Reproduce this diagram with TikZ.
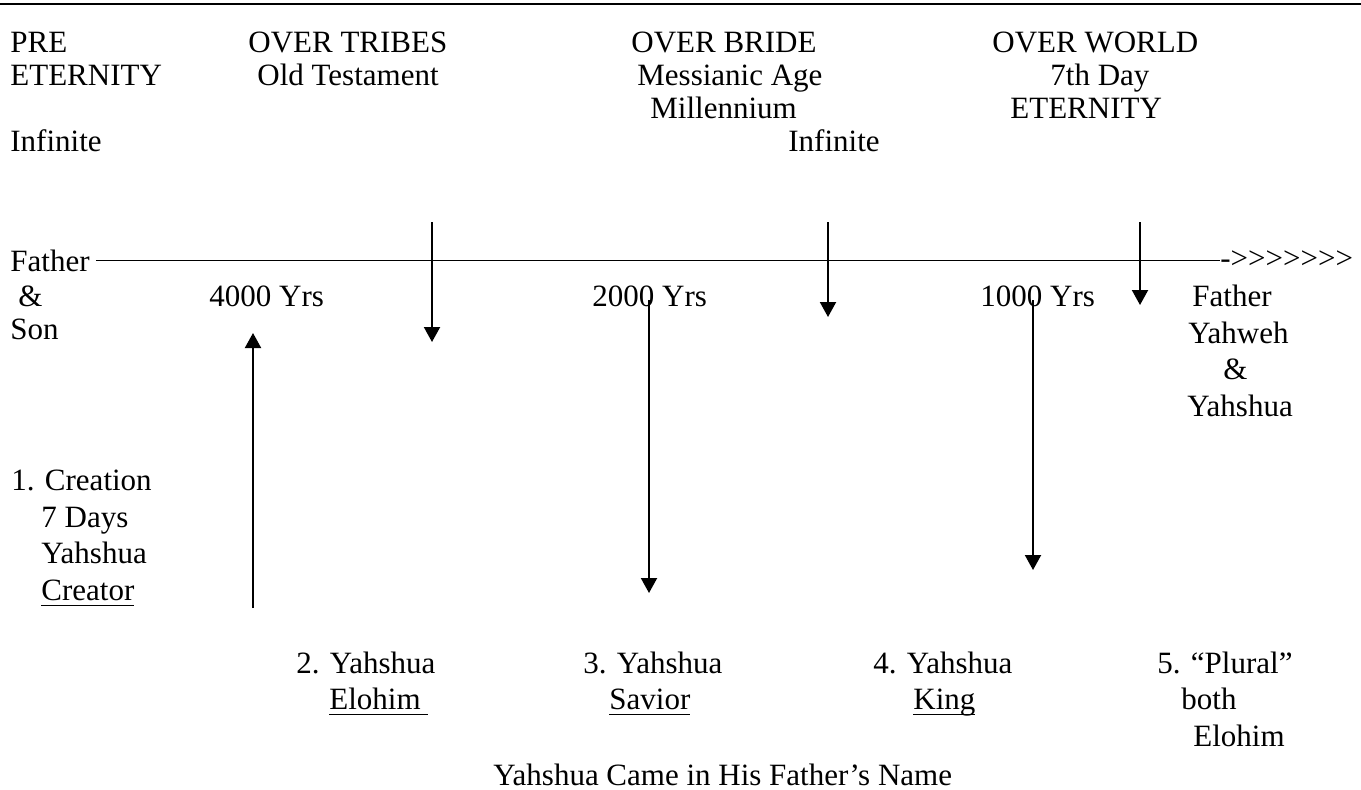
\documentclass[tikz,border=0pt]{standalone}
\usepackage{fontspec}
\setmainfont{Liberation Serif}
\usepackage{tikz}
\usetikzlibrary{arrows.meta}
\newcommand{\ulword}[1]{\setbox0\hbox{#1}\rlap{\rule[-3pt]{\wd0}{0.75pt}}\box0}
\newcommand{\gt}{>\kern0pt}
\tikzset{
  every node/.style={inner sep=0pt, anchor=base west, font=\fontsize{15.5}{16.5}\selectfont},
  arr/.style={line width=1pt, -{Triangle[length=7.5pt, width=8pt]}},
  tl/.style={line width=0.65pt}
}

\begin{document}
\begin{tikzpicture}[x=0.5pt, y=-0.5pt]
\useasboundingbox (0,0) rectangle (1361,789);
\draw[line width=0.8pt] (0,4) -- (1361,4);
% ages
\node (pre) at (10,52) {PRE};
\node (preEt) at (10,85) {ETERNITY};
\node (preInf) at (10,151) {Infinite};
\node (tribes) at (248,52) {OVER TRIBES};
\node (oldT) at (257,85) {Old Testament};
\node (bride) at (631,52) {OVER BRIDE};
\node (mess) at (637,85) {Messianic Age};
\node (mill) at (650,118) {Millennium};
\node (brideInf) at (788,151) {Infinite};
\node (world) at (992,52) {OVER WORLD};
\node (day7) at (1050,85) {7th Day};
\node (worldEt) at (1010,118) {ETERNITY};
% time line
\node (fatherL) at (10,271) {Father};
\node (ampL) at (18,306) {\&};
\node (son) at (10,339) {Son};
\node (tail) at (1220,268) {-\gt\gt\gt\gt\gt\gt\gt};
\draw[tl] ([xshift=3pt]fatherL.east) -- (fatherL.east -| tail.west);
\node (y4000) at (209,306) {4000 Yrs};
\node (y2000) at (592,306) {2000 Yrs};
\node (y1000) at (980,306) {1000 Yrs};
\node (fatherR) at (1192,306) {Father};
\node (yahweh) at (1188,343) {Yahweh};
\node (ampR) at (1223,379) {\&};
\node (yahshuaR) at (1187,416) {Yahshua};
% breaks
\coordinate (b1) at (432,222); \coordinate (b1e) at (432,342);
\coordinate (b2) at (828,222); \coordinate (b2e) at (828,317);
\coordinate (b3) at (1140,222); \coordinate (b3e) at (1140,305);
\draw[arr] (b1) -- (b1e);
\draw[arr] (b2) -- (b2e);
\draw[arr] (b3) -- (b3e);
\coordinate (c1) at (253,608); \coordinate (c1e) at (253,333);
\coordinate (s1) at (649,300); \coordinate (s1e) at (649,593);
\coordinate (k1) at (1033,300); \coordinate (k1e) at (1033,570);
\draw[arr] (c1) -- (c1e);
\draw[arr] (s1) -- (s1e);
\draw[arr] (k1) -- (k1e);
% names
\node (n1) at (11,490) {1. Creation};
\node (n1a) at (41,527) {7 Days};
\node (n1b) at (41,563) {Yahshua};
\node (n1c) at (41,600) {\ulword{Creator}};
\node (n2) at (296,673) {2. Yahshua};
\node (n2a) at (329,709) {\ulword{Elohim\ }};
\node (n3) at (583,673) {3. Yahshua};
\node (n3a) at (609,709) {\ulword{Savior}};
\node (n4) at (873,673) {4. Yahshua};
\node (n4a) at (913,709) {\ulword{King}};
\node (n5) at (1157,673) {5. “Plural”};
\node (n5a) at (1181,709) {both};
\node (n5b) at (1193,746) {Elohim};
\node (came) at (493,785) {Yahshua Came in His Father’s Name};
\end{tikzpicture}
\end{document}
